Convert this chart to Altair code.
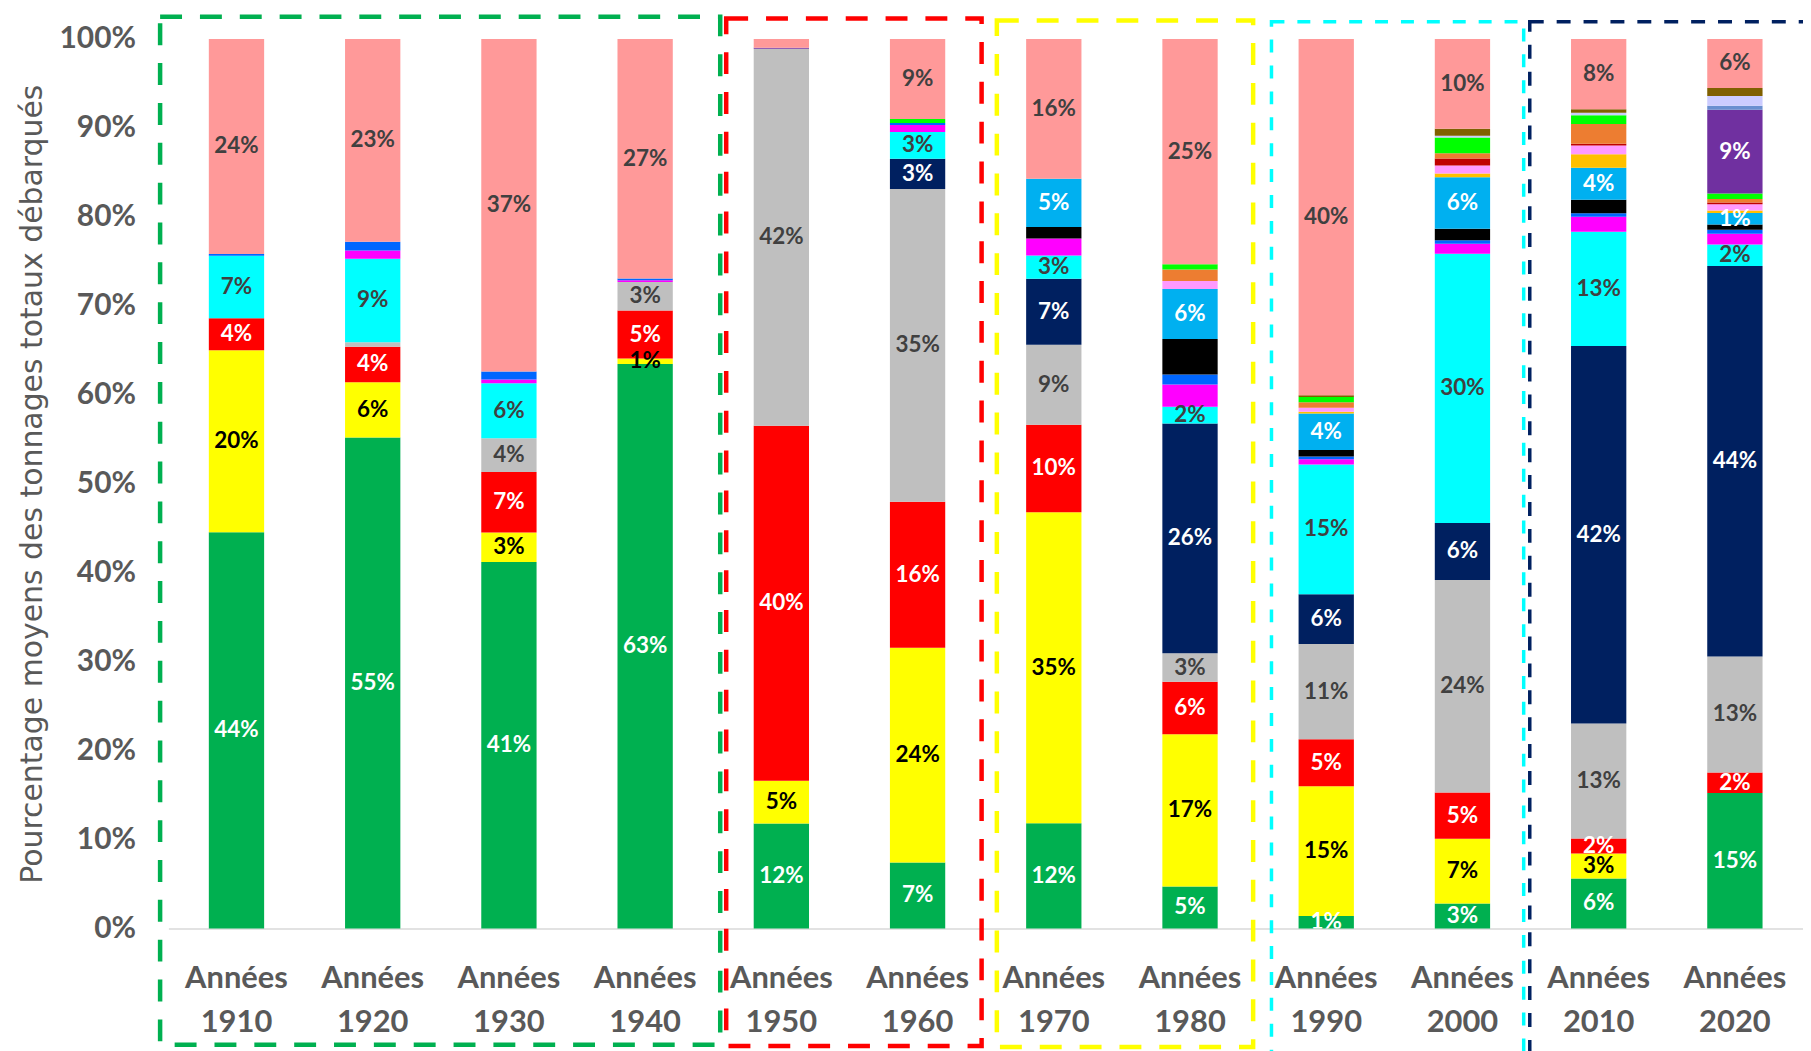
import altair as alt
import pandas as pd

decades = ["Années 1910", "Années 1920", "Années 1930", "Années 1940", "Années 1950", "Années 1960",
           "Années 1970", "Années 1980", "Années 1990", "Années 2000", "Années 2010", "Années 2020"]

# stacking order: first = bottom
series_names = ["vert", "jaune", "rouge", "gris", "marine", "cyan", "magenta", "bleu", "noir", "bleu ciel",
                "or", "rose clair", "rouge foncé", "orange", "vert vif", "violet", "bleu acier", "lavande",
                "brun", "saumon"]

vert        = [44.4, 55.2, 41.2, 63.4, 11.8, 7.4, 11.8, 4.7, 1.4, 2.8, 5.6, 15.2]
jaune       = [20.4, 6.2, 3.3, 0.6, 4.8, 24.1, 34.9, 17.1, 14.6, 7.3, 2.8, 0.0]
rouge       = [3.6, 4.0, 6.8, 5.4, 39.9, 16.4, 9.8, 5.9, 5.3, 5.2, 1.7, 2.3]
gris        = [0.0, 0.5, 3.8, 3.2, 42.4, 35.1, 9.0, 3.2, 10.7, 23.9, 12.9, 13.0]
marine      = [0.0, 0.0, 0.0, 0.0, 0.0, 3.4, 7.4, 25.8, 5.6, 6.4, 42.4, 43.8]
cyan        = [7.0, 9.4, 6.2, 0.0, 0.0, 3.0, 2.6, 1.9, 14.6, 30.3, 12.8, 2.4]
magenta     = [0.0, 0.9, 0.4, 0.2, 0.0, 0.8, 1.9, 2.5, 0.6, 1.1, 1.7, 1.2]
bleu        = [0.2, 1.0, 0.9, 0.2, 0.0, 0.2, 0.0, 1.1, 0.3, 0.4, 0.4, 0.45]
noir        = [0.0, 0.0, 0.0, 0.0, 0.0, 0.0, 1.3, 4.0, 0.75, 1.3, 1.5, 0.6]
bleu_ciel   = [0.0, 0.0, 0.0, 0.0, 0.0, 0.0, 5.4, 5.6, 4.1, 5.8, 3.6, 1.3]
or_         = [0.0, 0.0, 0.0, 0.0, 0.0, 0.0, 0.0, 0.0, 0.2, 0.4, 1.5, 0.26]
rose_clair  = [0.0, 0.0, 0.0, 0.0, 0.0, 0.0, 0.0, 0.9, 0.45, 0.9, 1.0, 0.7]
rouge_fonce = [0.0, 0.0, 0.0, 0.0, 0.0, 0.0, 0.0, 0.0, 0.0, 0.8, 0.2, 0.2]
orange      = [0.0, 0.0, 0.0, 0.0, 0.0, 0.0, 0.0, 1.3, 0.6, 0.6, 2.2, 0.4]
vert_vif    = [0.0, 0.0, 0.0, 0.0, 0.0, 0.45, 0.0, 0.6, 0.6, 1.75, 1.0, 0.6]
violet      = [0.0, 0.0, 0.0, 0.0, 0.1, 0.0, 0.0, 0.0, 0.0, 0.0, 0.0, 9.4]
bleu_acier  = [0.0, 0.0, 0.0, 0.0, 0.0, 0.0, 0.0, 0.0, 0.0, 0.0, 0.0, 0.45]
lavande     = [0.0, 0.0, 0.0, 0.0, 0.0, 0.0, 0.0, 0.0, 0.0, 0.2, 0.26, 1.1]
brun        = [0.0, 0.0, 0.0, 0.0, 0.0, 0.0, 0.0, 0.0, 0.2, 0.8, 0.4, 0.9]
saumon      = [24.1, 22.8, 37.4, 26.9, 1.0, 9.0, 15.7, 25.3, 40.1, 10.1, 7.9, 5.5]

series_values = [vert, jaune, rouge, gris, marine, cyan, magenta, bleu, noir, bleu_ciel, or_, rose_clair,
                 rouge_fonce, orange, vert_vif, violet, bleu_acier, lavande, brun, saumon]

colors = ["#00B050", "#FFFF00", "#FF0000", "#BFBFBF", "#002060", "#00FFFF", "#FF00FF", "#0066FF", "#000000",
          "#00B0F0", "#FFC000", "#FF99FF", "#C00000", "#ED7D31", "#00FF00", "#7030A0", "#6A8FD0", "#CCCCFF",
          "#806000", "#FF9999"]

# series whose segments carry a percentage label, with the label colour
label_colors = {"vert": "#FFFFFF", "jaune": "#000000", "rouge": "#FFFFFF", "gris": "#404040",
                "marine": "#FFFFFF", "cyan": "#404040", "bleu ciel": "#FFFFFF", "violet": "#FFFFFF",
                "saumon": "#404040"}
hidden_labels = [("Années 1950", "saumon")]

rows = []
for si, (name, vals) in enumerate(zip(series_names, series_values)):
    for d, v in zip(decades, vals):
        if v > 0:
            rows.append({"decade": d, "series": name, "order": si, "value": v,
                         "tcolor": label_colors.get(name, ""),
                         "hide": (d, name) in hidden_labels})
df = pd.DataFrame(rows)

FONT = "Lato"
GREY = "#595959"

base = alt.Chart(df).transform_stack(
    stack="value", groupby=["decade"], as_=["y0", "y1"],
    sort=[alt.SortField("order", order="ascending")], offset="normalize")

x_enc = alt.X("decade:N", sort=decades,
              scale=alt.Scale(paddingInner=0.594, paddingOuter=0.297),
              axis=alt.Axis(title=None, labelExpr="split(datum.label, ' ')", labelAngle=0,
                            labelFont=FONT, labelFontWeight="bold", labelFontSize=31, labelColor=GREY,
                            labelLineHeight=44, ticks=False, tickSize=0, labelPadding=35.5,
                            domainColor="#D9D9D9", domainWidth=1.5, labelOverlap=False))

y_enc = alt.Y("y0:Q", scale=alt.Scale(domain=[0, 1]),
              axis=alt.Axis(format=".0%", values=[i / 10 for i in range(11)],
                            labelFont=FONT, labelFontWeight="bold", labelFontSize=30, labelColor=GREY,
                            ticks=False, tickSize=0, domain=False, labelPadding=33,
                            title="Pourcentage  moyens des tonnages totaux débarqués",
                            titleFont="DejaVu Sans", titleFontSize=30, titleFontWeight="normal",
                            titleColor=GREY, titleX=-136, titleY=446.5, titleAngle=-90,
                            titleAlign="center", titleBaseline="middle"))

bars = base.mark_bar().encode(
    x=x_enc,
    y=y_enc,
    y2="y1:Q",
    color=alt.Color("series:N", scale=alt.Scale(domain=series_names, range=colors), legend=None),
)

text = base.transform_calculate(
    mid="(datum.y0 + datum.y1) / 2",
    label="format(datum.value / 100, '.0%')",
).transform_filter(
    "datum.tcolor != '' && datum.value >= 0.55 && !datum.hide"
).mark_text(font=FONT, fontWeight="bold", fontSize=22.5, baseline="middle", align="center", clip=True).encode(
    x=alt.X("decade:N", sort=decades),
    y=alt.Y("mid:Q"),
    text="label:N",
    color=alt.Color("tcolor:N", scale=None),
)

# dashed group frames (decorative annotation, pixel positions in the plot frame)
frames = [
    ("#00B050", [22, 18], 4.5, -8.3, 554.0, -22.3, 1009.7),
    ("#FF0000", [22, 18], 4.5, 560.0, 816.4, -20.5, 1011.0),
    ("#FFFF00", [22, 18], 4.5, 831.7, 1089.0, -18.5, 1012.0),
    ("#00FFFF", [13, 13], 3.5, 1107.4, 1360.6, -17.3, 1045.0),
    ("#002060", [14, 13], 3.5, 1366.7, 1700.0, -17.3, 1045.0),
]
dummy = pd.DataFrame({"k": [0]})
frame_layers = []
for col, dash, sw, fx1, fx2, fy1, fy2 in frames:
    frame_layers.append(
        alt.Chart(dummy).mark_rect(fillOpacity=0, stroke=col, strokeDash=dash, strokeWidth=sw).encode(
            x=alt.value(fx1), x2=alt.value(fx2), y=alt.value(fy1), y2=alt.value(fy2)
        )
    )

chart = alt.layer(bars, text, *frame_layers).properties(
    width=1641, height=893,
    padding={"left": 161, "top": 29, "right": 0, "bottom": 121},
    autosize=alt.AutoSizeParams(type="none"),
).configure_view(stroke=None).configure_axis(grid=False)

chart.save("out.html", embed_options={"renderer": "svg", "actions": False})
